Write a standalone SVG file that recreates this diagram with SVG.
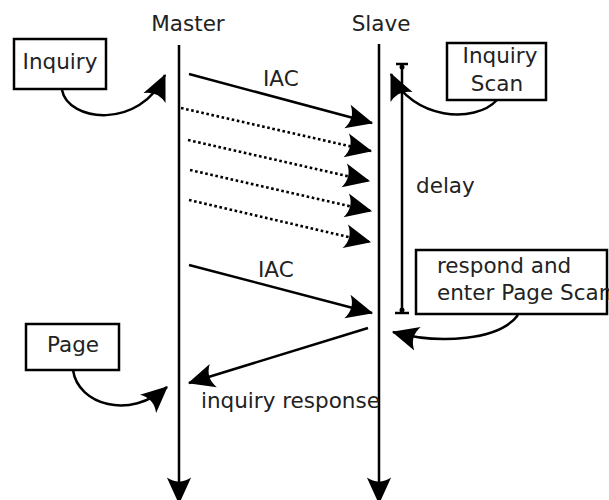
<svg xmlns="http://www.w3.org/2000/svg" width="609" height="500" viewBox="0 0 609 500">
  <style>
    text { font-family: "DejaVu Sans", "Liberation Sans", sans-serif; font-size: 21.5px; fill: #222; }
    .box { fill: #fff; stroke: #000; stroke-width: 2.5; }
    .line { fill: none; stroke: #000; stroke-width: 2.5; }
    .dot { fill: none; stroke: #000; stroke-width: 2.6; stroke-dasharray: 2.6 2.6; }
  </style>
  <defs>
    <marker id="head" markerUnits="userSpaceOnUse" markerWidth="30" markerHeight="30" viewBox="-24 -12 26 24" refX="0" refY="0" orient="auto" overflow="visible">
      <path d="M1,0 L-22,-10.5 Q-15,0 -22,10.5 Z" fill="#000"/>
    </marker>
  </defs>

  <rect width="609" height="500" fill="#fff"/>

  <!-- lifelines -->
  <g id="master">
    <text x="188" y="31" text-anchor="middle">Master</text>
    <line class="line" x1="179" y1="45" x2="179" y2="503" marker-end="url(#head)"/>
  </g>
  <g id="slave">
    <text x="381" y="31" text-anchor="middle">Slave</text>
    <line class="line" x1="379" y1="44" x2="379" y2="503" marker-end="url(#head)"/>
  </g>

  <!-- state boxes -->
  <g id="inquiry">
    <rect class="box" x="14" y="39" width="92" height="50"/>
    <text x="60" y="69" text-anchor="middle">Inquiry</text>
  </g>
  <g id="inquiry-scan">
    <rect class="box" x="447" y="43" width="99" height="57"/>
    <text x="500" y="63" text-anchor="middle">Inquiry</text>
    <text x="497" y="91" text-anchor="middle">Scan</text>
  </g>
  <g id="respond">
    <rect class="box" x="416" y="250" width="191" height="64"/>
    <text x="437" y="273">respond and</text>
    <text x="437" y="300">enter Page Scan</text>
  </g>
  <g id="page">
    <rect class="box" x="26" y="324" width="93" height="46"/>
    <text x="73" y="352" text-anchor="middle">Page</text>
  </g>

  <!-- delay interval -->
  <g id="delay">
    <line class="line" x1="402" y1="64" x2="402" y2="313"/>
    <line class="line" x1="396" y1="64" x2="408" y2="64"/>
    <circle cx="402" cy="67" r="2.5" fill="#000"/>
    <line class="line" x1="395" y1="313" x2="409" y2="313"/>
    <circle cx="402" cy="310" r="2.5" fill="#000"/>
    <text x="416" y="193">delay</text>
  </g>

  <!-- messages and transitions -->
  <g id="connectors">
    <path class="line" d="M62,90 C68,122 140,130 165,75" marker-end="url(#head)"/>
    <path class="line" d="M497,100 C475,124 412,120 391,74" marker-end="url(#head)"/>
    <path class="line" d="M518,315 C500,340 440,345 393,332" marker-end="url(#head)"/>
    <path class="line" d="M73,370 C78,405 130,420 167,387" marker-end="url(#head)"/>

    <line class="line" x1="189" y1="74" x2="372" y2="123" marker-end="url(#head)"/>
    <line class="dot" x1="181" y1="108" x2="371" y2="151" marker-end="url(#head)"/>
    <line class="dot" x1="188" y1="140" x2="369" y2="181" marker-end="url(#head)"/>
    <line class="dot" x1="190" y1="170" x2="371" y2="211" marker-end="url(#head)"/>
    <line class="dot" x1="189" y1="200" x2="370" y2="242" marker-end="url(#head)"/>
    <line class="line" x1="189" y1="265" x2="372" y2="313" marker-end="url(#head)"/>
    <line class="line" x1="368" y1="328" x2="189" y2="383" marker-end="url(#head)"/>

    <text x="263" y="86">IAC</text>
    <text x="258" y="277">IAC</text>
    <text x="201" y="408">inquiry response</text>
  </g>
</svg>
